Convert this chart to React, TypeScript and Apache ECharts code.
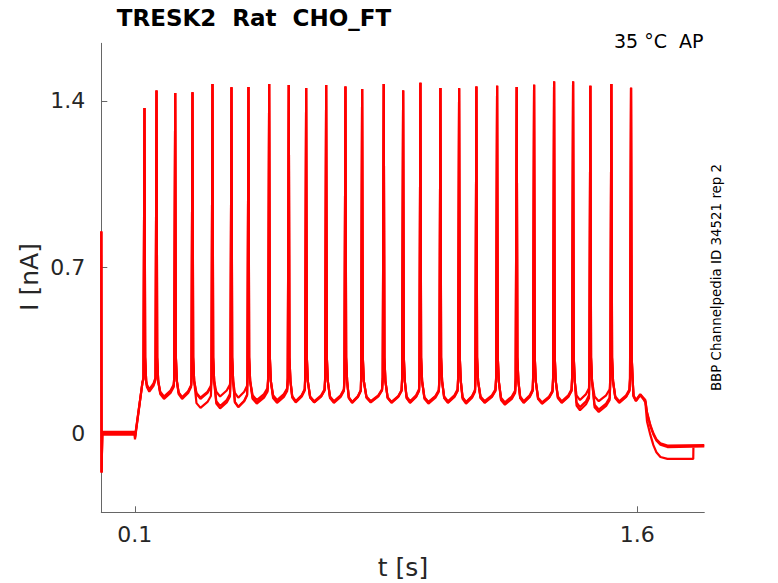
import React, { useEffect, useRef } from "react";
import * as echarts from "echarts";

// Spike times (s) and peak currents (nA)
const spikeTimes = [
  0.1289, 0.1648, 0.2206, 0.2722, 0.3319, 0.3886, 0.4393, 0.5011, 0.5596,
  0.6115, 0.6712, 0.7288, 0.7786, 0.8431, 0.901, 0.9526, 1.0123, 1.0681,
  1.1197, 1.1815, 1.24, 1.2919, 1.3516, 1.4083, 1.4599, 1.5226, 1.5813,
];
const spikePeaks = [
  1.37, 1.444, 1.434, 1.437, 1.472, 1.458, 1.459, 1.472, 1.467, 1.455, 1.467,
  1.461, 1.45, 1.472, 1.444, 1.477, 1.455, 1.454, 1.461, 1.464, 1.459, 1.468,
  1.482, 1.482, 1.464, 1.471, 1.456,
];
// inter-spike trough levels (nA) of the three sweeps
const troughA = [
  0.18, 0.15, 0.15, 0.15, 0.155, 0.15, 0.14, 0.14, 0.135, 0.135, 0.135, 0.132,
  0.135, 0.132, 0.135, 0.132, 0.135, 0.132, 0.135, 0.13, 0.135, 0.13, 0.135,
  0.14, 0.135, 0.135, 0.14,
];
const troughB = [
  0.175, 0.145, 0.145, 0.107, 0.105, 0.11, 0.125, 0.128, 0.13, 0.13, 0.128,
  0.128, 0.13, 0.128, 0.128, 0.125, 0.128, 0.125, 0.128, 0.12, 0.128, 0.125,
  0.128, 0.11, 0.1, 0.128, 0.135,
];
const troughC = [
  0.185, 0.155, 0.152, 0.145, 0.115, 0.112, 0.13, 0.135, 0.135, 0.13, 0.132,
  0.13, 0.132, 0.13, 0.13, 0.13, 0.13, 0.13, 0.13, 0.125, 0.13, 0.125, 0.13,
  0.097, 0.09, 0.13, 0.138,
];
const preLevels = [0.235, 0.225, 0.23];
const holdLevels = [0.006, 0, -0.006];
const stepOn = 0.1;
const stepOff = 1.618;
const tailTimes = [1.618, 1.624, 1.629, 1.639, 1.648, 1.657, 1.669, 1.69, 1.8];
const tailA = [0.15, 0.14, 0.09, 0.035, 0.0, -0.025, -0.042, -0.052, -0.05];
const tailB = [0.145, 0.135, 0.085, 0.03, -0.005, -0.03, -0.048, -0.058, -0.055];
const tailCTimes = [1.618, 1.624, 1.629, 1.639, 1.648, 1.657, 1.669, 1.69, 1.767, 1.7675];
const tailC = [0.145, 0.13, 0.05, -0.007, -0.05, -0.08, -0.1, -0.108, -0.108, -0.06];

const xTicks = [0.1, 1.6];
const yTicks = [0, 0.7, 1.4];

const FONT = "DejaVu Sans";
const TXT = "#262626";

function buildSweep(
  trough: number[],
  pre: number,
  hold: number,
  tT: number[],
  tV: number[]
) {
  const pts: number[][] = [
    [0, 0.85],
    [0.0008, -0.165],
    [0.003, hold],
    [stepOn, hold],
    [stepOn + 0.0005, hold - 0.02],
    [0.1225, 0.21],
    [spikeTimes[0] - 0.006, 0.215],
  ];
  const n = spikeTimes.length;
  for (let i = 0; i < n; i++) {
    const ts = spikeTimes[i];
    const next = i < n - 1 ? spikeTimes[i + 1] : stepOff;
    const d = next - ts;
    pts.push([ts - 0.003, pre]);
    pts.push([ts, spikePeaks[i]]);
    pts.push([ts + 0.002, 0.32]);
    pts.push([ts + 0.005, 0.22]);
    pts.push([ts + 0.2 * d, trough[i] + 0.02]);
    pts.push([ts + 0.4 * d, trough[i]]);
    pts.push([ts + 0.75 * d, trough[i] + 0.025]);
    if (i < n - 1) pts.push([ts + 0.92 * d, trough[i] + 0.05]);
  }
  for (let k = 0; k < tT.length; k++) pts.push([tT[k], tV[k]]);
  return pts;
}

export default function App() {
  const ref = useRef<HTMLDivElement>(null);
  useEffect(() => {
    if (!ref.current) return;
    const chart = echarts.init(ref.current, undefined, { renderer: "svg" });
    const sweeps = [
      buildSweep(troughA, preLevels[0], holdLevels[0], tailTimes, tailA),
      buildSweep(troughB, preLevels[1], holdLevels[1], tailTimes, tailB),
      buildSweep(troughC, preLevels[2], holdLevels[2], tailCTimes, tailC),
    ];
    chart.setOption({
      animation: false,
      backgroundColor: "#ffffff",
      grid: { left: 101.3, right: 73.7, top: 43.3, bottom: 70.7 },
      xAxis: {
        type: "value",
        min: 0,
        max: 1.8,
        splitLine: { show: false },
        axisLine: {
          show: true,
          onZero: false,
          lineStyle: { color: "#666666", width: 1 },
        },
        axisTick: {
          show: true,
          inside: true,
          length: 6,
          customValues: xTicks,
          lineStyle: { color: "#666666" },
        },
        axisLabel: {
          customValues: xTicks,
          fontFamily: FONT,
          fontSize: 22,
          color: TXT,
          margin: 11,
          formatter: (v: number) => String(v),
        },
      },
      yAxis: {
        type: "value",
        min: -0.333,
        max: 1.643,
        splitLine: { show: false },
        axisLine: {
          show: true,
          onZero: false,
          lineStyle: { color: "#666666", width: 1 },
        },
        axisTick: {
          show: true,
          inside: true,
          length: 6,
          customValues: yTicks,
          lineStyle: { color: "#666666" },
        },
        axisLabel: {
          customValues: yTicks,
          fontFamily: FONT,
          fontSize: 22,
          color: TXT,
          margin: 16,
          formatter: (v: number) => String(v),
        },
      },
      series: sweeps.map((d) => ({
        type: "line",
        data: d,
        showSymbol: false,
        symbol: "none",
        silent: true,
        lineStyle: { color: "#ff0000", width: 2.2 },
      })),
      graphic: [
        {
          type: "text",
          x: 254,
          y: 18,
          style: {
            text: "TRESK2  Rat  CHO_FT",
            font: `bold 23px "${FONT}"`,
            fill: "#000000",
            textAlign: "center",
            textVerticalAlign: "middle",
          },
        },
        {
          type: "text",
          x: 703.5,
          y: 40.5,
          style: {
            text: "35 °C  AP",
            font: `19px "${FONT}"`,
            fill: "#000000",
            textAlign: "right",
            textVerticalAlign: "middle",
          },
        },
        {
          type: "text",
          x: 716,
          y: 277.5,
          rotation: Math.PI / 2,
          style: {
            text: "BBP Channelpedia ID 34521 rep 2",
            font: `13.4px "${FONT}"`,
            fill: "#000000",
            textAlign: "center",
            textVerticalAlign: "middle",
          },
        },
        {
          type: "text",
          x: 29,
          y: 277,
          rotation: Math.PI / 2,
          style: {
            text: "I [nA]",
            font: `25px "${FONT}"`,
            fill: TXT,
            textAlign: "center",
            textVerticalAlign: "middle",
          },
        },
        {
          type: "text",
          x: 403,
          y: 567,
          style: {
            text: "t [s]",
            font: `25px "${FONT}"`,
            fill: TXT,
            textAlign: "center",
            textVerticalAlign: "middle",
          },
        },
      ],
    });
    return () => chart.dispose();
  }, []);
  return (
    <div
      ref={ref}
      style={{ position: "fixed", left: 0, top: 0, width: 778, height: 583 }}
    />
  );
}
